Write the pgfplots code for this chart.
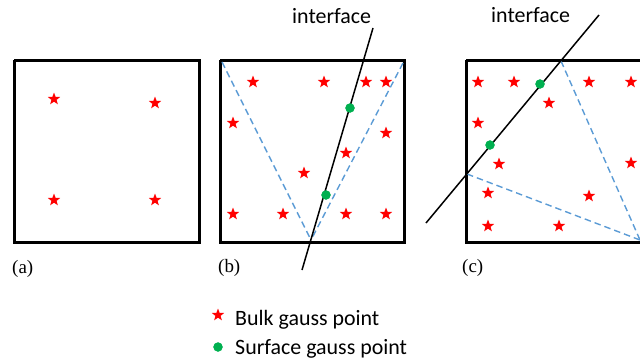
\documentclass[border=0pt]{standalone}
\usepackage{pgfplots}
\pgfplotsset{compat=1.18}
\usepackage{fontspec}
\setmainfont{Carlito}
\newfontfamily\labelfont{Liberation Serif}

\definecolor{starred}{RGB}{255,0,0}
\definecolor{dotgreen}{RGB}{0,176,80}
\definecolor{cutblue}{RGB}{91,155,213}

% filled five-pointed star
\pgfdeclareplotmark{fivestar}{%
  \pgfpathmoveto{\pgfpointpolar{90}{\pgfplotmarksize}}%
  \pgfpathlineto{\pgfpointpolar{126}{0.42\pgfplotmarksize}}%
  \pgfpathlineto{\pgfpointpolar{162}{\pgfplotmarksize}}%
  \pgfpathlineto{\pgfpointpolar{198}{0.42\pgfplotmarksize}}%
  \pgfpathlineto{\pgfpointpolar{234}{\pgfplotmarksize}}%
  \pgfpathlineto{\pgfpointpolar{270}{0.42\pgfplotmarksize}}%
  \pgfpathlineto{\pgfpointpolar{306}{\pgfplotmarksize}}%
  \pgfpathlineto{\pgfpointpolar{342}{0.42\pgfplotmarksize}}%
  \pgfpathlineto{\pgfpointpolar{18}{\pgfplotmarksize}}%
  \pgfpathlineto{\pgfpointpolar{54}{0.42\pgfplotmarksize}}%
  \pgfpathclose
  \pgfusepathqfill
}

\begin{document}
\begin{tikzpicture}
\begin{axis}[
  width=640bp, height=358bp, scale only axis,
  xmin=0, xmax=640, ymin=0, ymax=358, y dir=reverse,
  hide axis, clip=true,
]
% element boundaries
\addplot[black, line width=3bp] coordinates {(14,60) (199,60) (199,242) (14,242) (14,60)};
\addplot[black, line width=3bp] coordinates {(220,60) (404,60) (404,242) (220,242) (220,60)};
\addplot[black, line width=3bp] coordinates {(466,60) (642,60) (642,242) (466,242) (466,60)};

% sub-element partitions
\addplot[cutblue, line width=1.4bp, dash pattern=on 6.5bp off 4bp] coordinates {(222,62) (311,240)};
\addplot[cutblue, line width=1.4bp, dash pattern=on 6.5bp off 4bp] coordinates {(403,63) (311,240)};
\addplot[cutblue, line width=1.4bp, dash pattern=on 6.5bp off 4bp] coordinates {(561,61) (640,240)};
\addplot[cutblue, line width=1.4bp, dash pattern=on 6.5bp off 4bp] coordinates {(467,174) (640,240)};

% interfaces
\addplot[black, line width=1.5bp] coordinates {(373,28) (302,270)};
\addplot[black, line width=1.5bp] coordinates {(599,15) (426,223)};

% bulk gauss points
\addplot[only marks, mark=fivestar, mark size=6.5bp, color=starred] coordinates {
  (54,99) (155,103) (54,200) (155,200)
  (253,82) (324,82) (366,82) (386,82) (233,123) (386,133)
  (346,153) (304,173) (233,214) (283,214) (346,214) (386,214)
  (478,82) (514,82) (589,82) (631,82) (549,103) (478,123)
  (499,164) (631,163) (488,193) (589,196) (488,226) (559,226)
  (218,315)
};

% surface gauss points
\addplot[only marks, mark=*, mark size=4.5bp, color=dotgreen, mark options={draw=dotgreen, fill=dotgreen}] coordinates {
  (350,108) (326,195) (540,84) (490,145)
  (218,347)
};

\node[anchor=base west, inner sep=0, font=\fontsize{22}{25}\selectfont] at (axis cs:292,24) {interface};
\node[anchor=base west, inner sep=0, font=\fontsize{22}{25}\selectfont] at (axis cs:491,23) {interface};
\node[anchor=base west, inner sep=0, font=\fontsize{22}{25}\selectfont] at (axis cs:235,325) {Bulk gauss point};
\node[anchor=base west, inner sep=0, font=\fontsize{22}{25}\selectfont] at (axis cs:235,354) {Surface gauss point};

\node[anchor=base west, inner sep=0, font=\labelfont\fontsize{19}{22}\selectfont] at (axis cs:12,273) {(a)};
\node[anchor=base west, inner sep=0, font=\labelfont\fontsize{19}{22}\selectfont] at (axis cs:218,272) {(b)};
\node[anchor=base west, inner sep=0, font=\labelfont\fontsize{19}{22}\selectfont] at (axis cs:462,272) {(c)};
\end{axis}
\pgfresetboundingbox
\useasboundingbox (current axis.south west) rectangle (current axis.north east);
\end{tikzpicture}
\end{document}
